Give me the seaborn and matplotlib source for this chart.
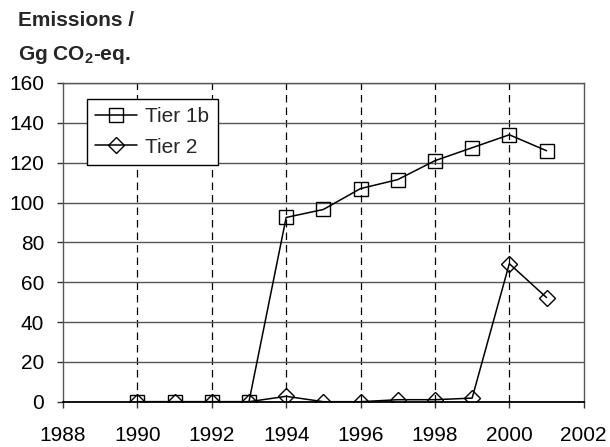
import matplotlib
matplotlib.use("Agg")
import matplotlib.pyplot as plt
import seaborn as sns
import pandas as pd

years = [1990, 1991, 1992, 1993, 1994, 1995, 1996, 1997, 1998, 1999, 2000, 2001]
tier1b = [0, 0, 0, 0, 92.5, 96.5, 107, 111.5, 121, 127.5, 134, 126]
tier2 = [0, 0, 0, 0, 2.7, 0, 0, 1, 1, 1.8, 69.3, 52.3]
series_names = ["Tier 1b", "Tier 2"]
x_ticks = [1988, 1990, 1992, 1994, 1996, 1998, 2000, 2002]
y_ticks = [0, 20, 40, 60, 80, 100, 120, 140, 160]
title_lines = ["Emissions /", r"Gg CO$_\mathbf{2}$-eq."]

sns.set_style("white")
plt.rcParams["font.family"] = ["Liberation Sans", "DejaVu Sans"]
plt.rcParams["mathtext.fontset"] = "custom"
plt.rcParams["mathtext.rm"] = "Liberation Sans"
plt.rcParams["mathtext.bf"] = "Liberation Sans:bold"

fig = plt.figure(figsize=(6.1, 4.47), dpi=100)
ax = fig.add_axes([63 / 610, 1 - 401.7 / 447, (583.7 - 63) / 610, (401.7 - 83) / 447])

df = pd.DataFrame({"year": years, series_names[0]: tier1b, series_names[1]: tier2})

sns.lineplot(data=df, x="year", y=series_names[0], ax=ax, color="black", lw=1.1,
             marker="s", markersize=10, markerfacecolor="none", markeredgecolor="black",
             markeredgewidth=1.0, label=series_names[0], zorder=5)
sns.lineplot(data=df, x="year", y=series_names[1], ax=ax, color="black", lw=1.1,
             marker="D", markersize=8.5, markerfacecolor="none", markeredgecolor="black",
             markeredgewidth=1.0, label=series_names[1], zorder=5)

ax.set_xlim(1988, 2002)
ax.set_ylim(0, 160)
ax.set_xticks(x_ticks)
ax.set_yticks(y_ticks)
ax.set_xlabel("")
ax.set_ylabel("")

ax.yaxis.grid(True, color="#555555", lw=1.0, ls="-")
ax.xaxis.grid(True, color="black", lw=0.9, ls=(0, (6, 4)))
xg = ax.get_xgridlines()
xg[0].set_visible(False)
xg[-1].set_visible(False)
ax.set_axisbelow(True)

for side in ["left", "right", "top"]:
    ax.spines[side].set_visible(True)
    ax.spines[side].set_color("#555555")
    ax.spines[side].set_linewidth(1.0)
ax.spines["bottom"].set_color("black")
ax.spines["bottom"].set_linewidth(1.3)

ax.tick_params(axis="both", which="major", direction="out", length=4.5, width=1.0,
               color="#333333", labelsize=15, colors="black")
ax.tick_params(axis="y", pad=9)
ax.tick_params(axis="x", pad=13)
ax.tick_params(left=True, bottom=True)

leg = ax.legend(loc="upper left", bbox_to_anchor=(24 / 520.7, 1 - 16 / 318.7),
                borderaxespad=0, fontsize=15, frameon=True, fancybox=False,
                edgecolor="black", framealpha=1, handlelength=2.0, handletextpad=0.4,
                labelspacing=0.55, borderpad=0.4)
leg.get_frame().set_linewidth(1.0)

fig.text(18 / 610, 1 - 21 / 447, title_lines[0], fontsize=15, fontweight="bold",
         va="center", ha="left")
fig.text(18 / 610, 1 - 55 / 447, title_lines[1], fontsize=15, fontweight="bold",
         va="center", ha="left")

fig.savefig("out.png", dpi=100)
